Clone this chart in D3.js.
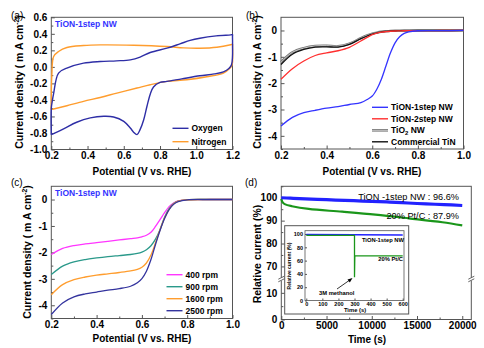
<!DOCTYPE html>
<html>
<head>
<meta charset="utf-8">
<script src="https://cdn.jsdelivr.net/npm/d3@7"></script>
<style>
  html, body { margin: 0; padding: 0; background: #fff; }
  svg { display: block; font-family: "Liberation Sans", Arial, sans-serif; }
</style>
</head>
<body>
<svg id="chart" width="484" height="348"></svg>
<script>
// ---------- (a) cyclic voltammograms, TiON-1step NW ----------
const oxygenE = [0.2, 0.2, 0.205, 0.213, 0.24, 0.286, 0.378, 0.47, 0.56, 0.636, 0.69, 0.746, 0.838, 0.91, 0.966, 1.02, 1.11, 1.19, 1.2,
                 1.2, 1.2, 1.195, 1.18, 1.15, 1.1, 1.02, 0.92, 0.838, 0.8, 0.764, 0.746, 0.728, 0.71, 0.69, 0.673, 0.654, 0.636, 0.6,
                 0.544, 0.49, 0.415, 0.34, 0.268, 0.213, 0.2];
const oxygenJ = [-0.82, -0.5, -0.42, -0.32, -0.075, -0.015, 0.045, 0.065, 0.073, 0.085, 0.118, 0.174, 0.226, 0.278, 0.32, 0.347, 0.375, 0.387, 0.39,
                 0.37, 0.13, 0.03, -0.02, -0.06, -0.085, -0.108, -0.145, -0.176, -0.188, -0.244, -0.33, -0.477, -0.64, -0.76, -0.82, -0.79, -0.74, -0.66,
                 -0.606, -0.598, -0.618, -0.67, -0.75, -0.807, -0.82];
const nitrogenE = [0.2, 0.2, 0.203, 0.213, 0.24, 0.286, 0.378, 0.47, 0.654, 0.838, 0.93, 1.02, 1.114, 1.19, 1.2,
                   1.2, 1.2, 1.195, 1.187, 1.15, 1.058, 0.948, 0.838, 0.746, 0.673, 0.562, 0.47, 0.378, 0.286, 0.213, 0.2];
const nitrogenJ = [-0.517, -0.3, -0.1, 0.126, 0.186, 0.234, 0.258, 0.266, 0.262, 0.246, 0.23, 0.226, 0.238, 0.268, 0.274,
                   0.255, 0.05, 0.01, -0.015, -0.075, -0.12, -0.156, -0.176, -0.216, -0.256, -0.317, -0.37, -0.417, -0.47, -0.51, -0.517];

// ---------- (b) LSV of different catalysts ----------
const lsvE = [0.2, 0.25, 0.3, 0.35, 0.4, 0.45, 0.5, 0.55, 0.58, 0.6, 0.62, 0.64, 0.66, 0.68, 0.7, 0.72, 0.74, 0.76, 0.8, 0.9, 1.0];
const tion1Lsv = [-3.63, -3.3, -3.12, -3.03, -2.95, -2.89, -2.81, -2.74, -2.61, -2.49, -2.23, -1.85, -1.35, -0.85, -0.47, -0.24, -0.11, -0.05, -0.01, -0.005, 0];
const tion2Lsv = [-1.85, -1.45, -1.16, -0.95, -0.85, -0.77, -0.64, -0.4, -0.25, -0.16, -0.1, -0.065, -0.045, -0.03, -0.02, -0.015, -0.01, -0.008, -0.005, -0.002, 0];
const tio2Lsv = [-1.2, -0.83, -0.67, -0.59, -0.58, -0.6, -0.5, -0.29, -0.18, -0.12, -0.08, -0.05, -0.03, -0.015, -0.008, -0.005, -0.003, -0.002, -0.001, 0, 0];
const tinLsv = [-1.29, -0.9, -0.72, -0.63, -0.62, -0.63, -0.53, -0.31, -0.2, -0.14, -0.09, -0.055, -0.035, -0.02, -0.01, -0.008, -0.005, -0.003, -0.002, -0.001, 0];

// ---------- (c) LSV at different rotation rates ----------
const rpmE = [0.2, 0.25, 0.3, 0.35, 0.4, 0.45, 0.5, 0.55, 0.58, 0.6, 0.62, 0.64, 0.66, 0.68, 0.7, 0.72, 0.74, 0.76, 0.8, 0.9, 1.0];
const rpm400 = [-2.08, -1.85, -1.74, -1.68, -1.63, -1.58, -1.53, -1.48, -1.45, -1.41, -1.35, -1.24, -1.02, -0.76, -0.5, -0.27, -0.13, -0.05, -0.01, 0, 0];
const rpm900 = [-2.84, -2.52, -2.36, -2.27, -2.21, -2.16, -2.12, -2.08, -2.04, -1.99, -1.9, -1.75, -1.5, -1.14, -0.67, -0.34, -0.15, -0.06, -0.01, 0, 0];
const rpm1600 = [-3.6, -3.22, -3.03, -2.93, -2.86, -2.81, -2.76, -2.7, -2.64, -2.56, -2.4, -2.1, -1.64, -1.14, -0.7, -0.37, -0.16, -0.06, -0.01, 0, 0];
const rpm2500 = [-4.35, -3.91, -3.68, -3.57, -3.5, -3.43, -3.37, -3.28, -3.15, -2.99, -2.71, -2.27, -1.7, -1.17, -0.72, -0.38, -0.18, -0.08, -0.01, 0, 0];
const rpmLabels = ["400 rpm", "900 rpm", "1600 rpm", "2500 rpm"];

// ---------- (d) chronoamperometric stability ----------
const tionT = [0, 1000, 2000, 4000, 6000, 8000, 10000, 12000, 14000, 16000, 18000, 20000];
const tionRel = [100, 99.8, 99.6, 99.3, 99.0, 98.7, 98.4, 98.1, 97.7, 97.3, 97.0, 96.6];
const ptcT = [0, 150, 440, 1180, 3030, 6720, 10400, 14100, 17800, 20000];
const ptcRel = [99.5, 98, 97.1, 96.3, 95.1, 93.9, 92.6, 91.0, 89.3, 87.9];
// methanol-tolerance inset
const insetTionT = [0, 300, 600];
const insetTionRel = [99.5, 99, 98.5];
const insetPtcT = [0, 300, 300, 302, 600];
const insetPtcRel = [98, 98, 35, 67, 67];

const FONT = '"Liberation Sans", Arial, sans-serif';
const svg = d3.select("#chart");
const frameColor = "#555";
const fmt1 = d => d3.format(".1f")(d).replace("\u2212", "-");
const fmt0 = d => d3.format("d")(d).replace("\u2212", "-");
const zip = (xs, ys) => xs.map((x, i) => [x, ys[i]]);

function styleAxis(g, fs) {
  g.select(".domain").remove();
  g.selectAll("line").attr("stroke", frameColor);
  g.selectAll("text").attr("font-family", FONT).attr("font-size", fs).attr("font-weight", "bold").attr("fill", "#000");
}

function addAxes(g, x, y, o) {
  const [x0, x1] = x.range(), [y0, y1] = y.range();
  g.append("g").attr("transform", `translate(0,${y0})`)
    .call(d3.axisBottom(x).tickValues(o.xMinor).tickSize(-2).tickFormat(""))
    .call(a => styleAxis(a, 10));
  g.append("g").attr("transform", `translate(0,${y0})`)
    .call(d3.axisBottom(x).tickValues(o.xMajor).tickSize(-3.5).tickPadding(2.5).tickFormat(o.xFmt))
    .call(a => styleAxis(a, o.fs || 10));
  g.append("g").attr("transform", `translate(${x0},0)`)
    .call(d3.axisLeft(y).tickValues(o.yMinor).tickSize(-2).tickFormat(""))
    .call(a => styleAxis(a, 10));
  g.append("g").attr("transform", `translate(${x0},0)`)
    .call(d3.axisLeft(y).tickValues(o.yMajor).tickSize(-3.5).tickPadding(4).tickFormat(o.yFmt))
    .call(a => styleAxis(a, o.fs || 10));
  g.append("rect").attr("x", x0).attr("y", y1).attr("width", x1 - x0).attr("height", y0 - y1)
    .attr("fill", "none").attr("stroke", frameColor).attr("stroke-width", 1);
}

function text(g, x, y, s, o = {}) {
  return g.append("text").attr("x", x).attr("y", y).text(s)
    .attr("font-family", FONT).attr("font-size", o.fs || 10)
    .attr("font-weight", o.fw || "bold").attr("fill", o.fill || "#000")
    .attr("text-anchor", o.anchor || "start");
}

function currentTitle(g, cx, cy) {
  const t = g.append("text").attr("transform", `translate(${cx},${cy}) rotate(-90)`)
    .attr("text-anchor", "middle").attr("font-family", FONT).attr("font-size", 10.5).attr("font-weight", "bold");
  t.append("tspan").text("Current density ( m A cm");
  t.append("tspan").text("-2").attr("font-size", 6.8).attr("dy", -4);
  t.append("tspan").text(")").attr("dy", 4);
}

function legend(g, x, y, dy, items, fs) {
  items.forEach((it, i) => {
    const yy = y + i * dy;
    if (it.under) g.append("line").attr("x1", x).attr("x2", x + 16).attr("y1", yy).attr("y2", yy)
      .attr("stroke", it.under).attr("stroke-width", 2.6);
    g.append("line").attr("x1", x).attr("x2", x + 16).attr("y1", yy).attr("y2", yy)
      .attr("stroke", it.color).attr("stroke-width", it.w || 1.4);
    const t = text(g, x + 19, yy + 3, "", { fs });
    it.parts.forEach(p => t.append("tspan").text(p.s).attr("font-size", p.sub ? fs * 0.7 : null).attr("dy", p.dy || 0));
  });
}

const curve = d3.curveCatmullRom.alpha(0.5);

// ===== panel (a) =====
{
  const g = svg.append("g");
  const x = d3.scaleLinear().domain([0.2, 1.2]).range([51.3, 232.5]);
  const y = d3.scaleLinear().domain([-1.0, 0.6]).range([149.5, 17.3]);
  addAxes(g, x, y, {
    xMajor: d3.range(0.2, 1.21, 0.2), xMinor: d3.range(0.3, 1.2, 0.2), xFmt: fmt1,
    yMajor: d3.range(-1.0, 0.61, 0.2), yMinor: d3.range(-0.9, 0.6, 0.2), yFmt: fmt1
  });
  const line = d3.line().x(d => x(d[0])).y(d => y(d[1])).curve(curve);
  g.append("path").datum(zip(nitrogenE, nitrogenJ)).attr("d", line).attr("fill", "none").attr("stroke", "#ff9d2e").attr("stroke-width", 1.4);
  g.append("path").datum(zip(oxygenE, oxygenJ)).attr("d", line).attr("fill", "none").attr("stroke", "#2e2ea6").attr("stroke-width", 1.4);
  text(g, 55, 27, "TiON-1step NW", { fs: 8.5, fill: "#3434ff" });
  legend(g, 172.5, 128.3, 13.4, [
    { color: "#2e2ea6", parts: [{ s: "Oxygen" }] },
    { color: "#ff9d2e", parts: [{ s: "Nitrogen" }] }
  ], 8.5);
  text(g, 142, 174.5, "Potential (V vs. RHE)", { anchor: "middle" });
  currentTitle(g, 23, 82);
  text(g, 11, 19, "(a)", { fw: "normal", fs: 10 });
}

// ===== panel (b) =====
{
  const g = svg.append("g");
  const x = d3.scaleLinear().domain([0.2, 1.0]).range([281, 463.5]);
  const y = d3.scaleLinear().domain([-4.5, 0.5]).range([149, 17.3]);
  addAxes(g, x, y, {
    xMajor: d3.range(0.2, 1.01, 0.2), xMinor: d3.range(0.3, 1.0, 0.2), xFmt: fmt1,
    yMajor: d3.range(-4, 0.1, 1), yMinor: d3.range(-4.5, 0.5, 1), yFmt: fmt0
  });
  const line = d3.line().x(d => x(d[0])).y(d => y(d[1])).curve(curve);
  g.append("path").datum(zip(lsvE, tio2Lsv)).attr("d", line).attr("fill", "none").attr("stroke", "#777").attr("stroke-width", 2.4);
  g.append("path").datum(zip(lsvE, tio2Lsv)).attr("d", line).attr("fill", "none").attr("stroke", "#c8c8c8").attr("stroke-width", 1);
  g.append("path").datum(zip(lsvE, tinLsv)).attr("d", line).attr("fill", "none").attr("stroke", "#111").attr("stroke-width", 1.3);
  g.append("path").datum(zip(lsvE, tion2Lsv)).attr("d", line).attr("fill", "none").attr("stroke", "#ff2f2f").attr("stroke-width", 1.3);
  g.append("path").datum(zip(lsvE, tion1Lsv)).attr("d", line).attr("fill", "none").attr("stroke", "#3434ff").attr("stroke-width", 1.3);
  legend(g, 372, 107.3, 11.5, [
    { color: "#3434ff", parts: [{ s: "TiON-1step NW" }] },
    { color: "#ff2f2f", parts: [{ s: "TiON-2step NW" }] },
    { color: "#c8c8c8", under: "#777", w: 1, parts: [{ s: "TiO" }, { s: "2", sub: true, dy: 2 }, { s: " NW", dy: -2 }] },
    { color: "#111", parts: [{ s: "Commercial TiN" }] }
  ], 8.5);
  text(g, 372, 174.5, "Potential (V vs. RHE)", { anchor: "middle" });
  currentTitle(g, 261, 82);
  text(g, 246, 19, "(b)", { fw: "normal", fs: 10 });
}

// ===== panel (c) =====
{
  const g = svg.append("g");
  const x = d3.scaleLinear().domain([0.2, 1.0]).range([51.3, 232.5]);
  const y = d3.scaleLinear().domain([-4.5, 0.5]).range([318.5, 186.3]);
  addAxes(g, x, y, {
    xMajor: d3.range(0.2, 1.01, 0.2), xMinor: d3.range(0.3, 1.0, 0.2), xFmt: fmt1,
    yMajor: d3.range(-4, 0.1, 1), yMinor: d3.range(-4.5, 0.5, 1), yFmt: fmt0
  });
  const line = d3.line().x(d => x(d[0])).y(d => y(d[1])).curve(curve);
  const cols = ["#ff36ff", "#2a998a", "#ff9d2e", "#34349e"];
  [rpm400, rpm900, rpm1600, rpm2500].forEach((s, i) => {
    g.append("path").datum(zip(rpmE, s)).attr("d", line).attr("fill", "none").attr("stroke", cols[i]).attr("stroke-width", 1.3);
  });
  text(g, 55, 195.5, "TiON-1step NW", { fs: 8.5, fill: "#3434ff" });
  legend(g, 166.5, 274.7, 12, rpmLabels.map((s, i) => ({ color: cols[i], parts: [{ s }] })), 8.5);
  text(g, 142, 342, "Potential (V vs. RHE)", { anchor: "middle" });
  currentTitle(g, 30.5, 252);
  text(g, 11, 186, "(c)", { fw: "normal", fs: 10 });
}

// ===== panel (d) =====
{
  const g = svg.append("g");
  const x = d3.scaleLinear().domain([0, 21000]).range([281.3, 471.3]);
  const yHi = d3.scaleLinear().domain([64.5, 105]).range([279, 186.3]);
  const yLo = d3.scaleLinear().domain([0, 15]).range([319.5, 279.5]);
  const [x0, x1] = x.range();
  // x axis
  g.append("g").attr("transform", `translate(0,319.5)`)
    .call(d3.axisBottom(x).tickValues(d3.range(2500, 20001, 5000)).tickSize(-2).tickFormat(""))
    .call(a => styleAxis(a, 10));
  g.append("g").attr("transform", `translate(0,319.5)`)
    .call(d3.axisBottom(x).tickValues(d3.range(0, 20001, 5000)).tickSize(-3.5).tickPadding(2.5).tickFormat(fmt0))
    .call(a => styleAxis(a, 10));
  // broken y axis
  g.append("g").attr("transform", `translate(${x0},0)`)
    .call(d3.axisLeft(yHi).tickValues([65, 75, 85, 95, 105]).tickSize(-2).tickFormat(""))
    .call(a => styleAxis(a, 10));
  g.append("g").attr("transform", `translate(${x0},0)`)
    .call(d3.axisLeft(yHi).tickValues([70, 80, 90, 100]).tickSize(-3.5).tickPadding(4).tickFormat(fmt0))
    .call(a => styleAxis(a, 10));
  g.append("g").attr("transform", `translate(${x0},0)`)
    .call(d3.axisLeft(yLo).tickValues([5]).tickSize(-2).tickFormat(""))
    .call(a => styleAxis(a, 10));
  g.append("g").attr("transform", `translate(${x0},0)`)
    .call(d3.axisLeft(yLo).tickValues([0, 10]).tickSize(-3.5).tickPadding(4).tickFormat(fmt0))
    .call(a => styleAxis(a, 10));
  g.append("rect").attr("x", x0).attr("y", 186.3).attr("width", x1 - x0).attr("height", 319.5 - 186.3)
    .attr("fill", "none").attr("stroke", frameColor);
  // break marks
  [x0, x1].forEach(bx => {
    g.append("rect").attr("x", bx - 3).attr("y", 277.6).attr("width", 6).attr("height", 3).attr("fill", "#fff");
    [-1.3, 1.3].forEach(off => {
      g.append("line").attr("x1", bx - 3).attr("x2", bx + 3).attr("y1", 280.5 + off).attr("y2", 277.5 + off)
        .attr("stroke", frameColor).attr("stroke-width", 0.9);
    });
  });
  const lineHi = d3.line().x(d => x(d[0])).y(d => yHi(d[1])).curve(curve);
  g.append("path").datum(zip(ptcT, ptcRel)).attr("d", lineHi).attr("fill", "none").attr("stroke", "#1a961a").attr("stroke-width", 2.2);
  g.append("path").datum(zip(tionT, tionRel)).attr("d", lineHi).attr("fill", "none").attr("stroke", "#2222ff").attr("stroke-width", 3.2);
  text(g, 459, 199.8, "TiON -1step  NW : 96.6%", { fs: 9.2, fw: "normal", anchor: "end" });
  text(g, 459, 218.5, "20% Pt/C  : 87.9%", { fs: 9.2, fw: "normal", anchor: "end" });

  // inset
  const ig = g.append("g");
  ig.append("rect").attr("x", 284.7).attr("y", 225.7).attr("width", 124).attr("height", 88.3)
    .attr("fill", "#fff").attr("stroke", frameColor).attr("stroke-width", 1);
  const ix = d3.scaleLinear().domain([-8, 608]).range([305, 404]);
  const iy = d3.scaleLinear().domain([0, 105]).range([300.5, 230.7]);
  ig.append("g").attr("transform", "translate(0,300.5)")
    .call(d3.axisBottom(ix).tickValues(d3.range(0, 601, 100)).tickSize(-2).tickPadding(1.5).tickFormat(fmt0))
    .call(a => styleAxis(a, 5.5));
  ig.append("g").attr("transform", "translate(305,0)")
    .call(d3.axisLeft(iy).tickValues(d3.range(0, 101, 20)).tickSize(-2).tickPadding(2).tickFormat(fmt0))
    .call(a => styleAxis(a, 5.5));
  ig.append("rect").attr("x", 305).attr("y", 230.7).attr("width", 99).attr("height", 300.5 - 230.7)
    .attr("fill", "none").attr("stroke", frameColor).attr("stroke-width", 0.8);
  const iline = d3.line().x(d => ix(d[0])).y(d => iy(d[1]));
  ig.append("path").datum(zip(insetTionT, insetTionRel)).attr("d", iline).attr("fill", "none").attr("stroke", "#2222ff").attr("stroke-width", 1.4);
  ig.append("path").datum(zip(insetPtcT, insetPtcRel)).attr("d", iline).attr("fill", "none").attr("stroke", "#1a961a").attr("stroke-width", 1.3);
  text(ig, 404, 242, "TiON-1step NW", { fs: 5.8, anchor: "end" });
  text(ig, 403, 261, "20% Pt/C", { fs: 5.8, anchor: "end" });
  text(ig, 319, 295, "3M methanol", { fs: 5.8 });
  ig.append("line").attr("x1", 337).attr("y1", 289).attr("x2", 350.5).attr("y2", 279.5).attr("stroke", "#000").attr("stroke-width", 0.8);
  ig.append("path").attr("d", "M352.5,278 L347.5,279.6 L349.8,282.6 Z").attr("fill", "#000");
  text(ig, 355, 312, "Time (s)", { fs: 5.8, anchor: "middle" });
  ig.append("text").attr("transform", "translate(291,266) rotate(-90)").attr("text-anchor", "middle")
    .attr("font-family", FONT).attr("font-size", 5).attr("font-weight", "bold").text("Relative current (%)");

  text(g, 367, 343, "Time (s)", { anchor: "middle" });
  g.append("text").attr("transform", "translate(261,254) rotate(-90)").attr("text-anchor", "middle")
    .attr("font-family", FONT).attr("font-size", 10.5).attr("font-weight", "bold").text("Relative current (%)");
  text(g, 245, 186, "(d)", { fw: "normal", fs: 10 });
}
</script>
</body>
</html>
